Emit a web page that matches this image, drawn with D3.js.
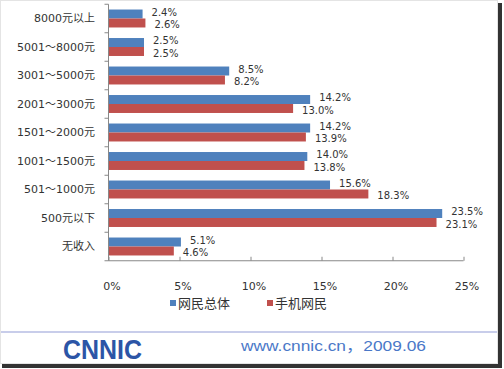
<!DOCTYPE html>
<html><head><meta charset="utf-8">
<script src="https://cdn.jsdelivr.net/npm/d3@7"></script>
<style>
html,body{margin:0;padding:0;background:#fff;}
svg{display:block;}
text{font-family:"DejaVu Sans","Noto Sans CJK SC",sans-serif;fill:#333;}
</style></head>
<body>
<script>
const categories = ["8000元以上","5001～8000元","3001～5000元","2001～3000元","1501～2000元","1001～1500元","501～1000元","500元以下","无收入"];
const seriesNames = ["网民总体","手机网民"];
const allUsers = [2.4, 2.5, 8.5, 14.2, 14.2, 14.0, 15.6, 23.5, 5.1];
const mobileUsers = [2.6, 2.5, 8.2, 13.0, 13.9, 13.8, 18.3, 23.1, 4.6];
const xTicks = [0, 5, 10, 15, 20, 25];
const colors = ["#4F81BD", "#C0504D"];

const W = 504, H = 369;
const svg = d3.select("body").append("svg").attr("width", W).attr("height", H);

// frame / shadow
svg.append("rect").attr("x",0.5).attr("y",0.5).attr("width",497).attr("height",363).attr("fill","#fff").attr("stroke","#e4e4e4");
svg.append("rect").attr("x",498).attr("y",3).attr("width",4).attr("height",365).attr("fill","#333");
svg.append("rect").attr("x",2).attr("y",364).attr("width",500).attr("height",4).attr("fill","#333");

const x = d3.scaleLinear().domain([0, 25]).range([108.5, 463.5]);
const y = d3.scaleBand().domain(categories).range([4.25, 260.75]).paddingInner(0.37).paddingOuter(0.185);
const ys = d3.scaleBand().domain([0,1]).range([0, y.bandwidth()]);

const g = svg.append("g");

// bars
const series = [allUsers, mobileUsers];
series.forEach((vals, si) => {
  g.selectAll(".bar" + si).data(categories).enter().append("rect")
    .attr("x", x(0))
    .attr("y", d => y(d) + ys(si))
    .attr("width", (d, i) => x(vals[i]) - x(0))
    .attr("height", ys.bandwidth())
    .attr("fill", colors[si]);
  g.selectAll(".lab" + si).data(categories).enter().append("text")
    .attr("x", (d, i) => x(vals[i]) + 9)
    .attr("y", d => y(d) + ys(si) + ys.bandwidth() / 2 + (si === 0 ? -2 : 2))
    .attr("dy", "0.35em")
    .attr("font-size", 10)
    .text((d, i) => vals[i].toFixed(1) + "%");
});

// y axis
const yAxis = g.append("g").attr("transform", `translate(${x(0)},0)`);
yAxis.append("line").attr("x1",0).attr("x2",0).attr("y1",y.range()[0]).attr("y2",y.range()[1]).attr("stroke","#888");
const step = y.step();
d3.range(categories.length + 1).forEach(i => {
  const yy = y.range()[0] + i * step;
  yAxis.append("line").attr("x1",-4).attr("x2",0).attr("y1",yy).attr("y2",yy).attr("stroke","#888");
});
g.selectAll(".cat").data(categories).enter().append("text")
  .attr("x", 95).attr("y", d => y(d) + y.bandwidth()/2).attr("dy","0.35em")
  .attr("text-anchor","end").attr("font-size",11).text(d => d);

// x axis
const xAxisG = g.append("g").attr("transform", `translate(0,${y.range()[1]})`)
  .call(d3.axisBottom(x).tickValues(xTicks).tickSize(4).tickFormat(d => d + "%"));
xAxisG.select(".domain").attr("stroke","#888").attr("d", `M${x(0)},0H${x(25)}`);
xAxisG.selectAll(".tick line").attr("stroke","#888").attr("y1",-4).attr("y2",0);
xAxisG.selectAll(".tick text").attr("y", 21).attr("dx", 3).attr("font-size", 11)
  .attr("font-family", "DejaVu Sans").attr("fill","#333");

// legend
const legendX = [170, 267];
seriesNames.forEach((n, i) => {
  svg.append("rect").attr("x", legendX[i]).attr("y", 300).attr("width", 6).attr("height", 6).attr("fill", colors[i]);
  svg.append("text").attr("x", legendX[i] + 8).attr("y", 303).attr("dy","0.35em").attr("font-size", 13).text(n);
});

// footer
svg.append("rect").attr("x",1).attr("y",331).attr("width",496).attr("height",2).attr("fill","#c8cdea");
svg.append("text").attr("x",63).attr("y",359).attr("font-size",27).attr("font-weight","bold")
  .attr("textLength",79).attr("lengthAdjust","spacingAndGlyphs")
  .style("fill","#2c55a6").style("font-family","Liberation Sans, Arial, sans-serif").text("CNNIC");
svg.append("text").attr("x",241).attr("y",351).attr("font-size",14)
  .attr("textLength",185).attr("lengthAdjust","spacingAndGlyphs")
  .style("fill","#4a78c8").style("font-family","Liberation Sans, Noto Sans CJK SC, sans-serif").text("www.cnnic.cn，2009.06");
</script>
</body></html>
